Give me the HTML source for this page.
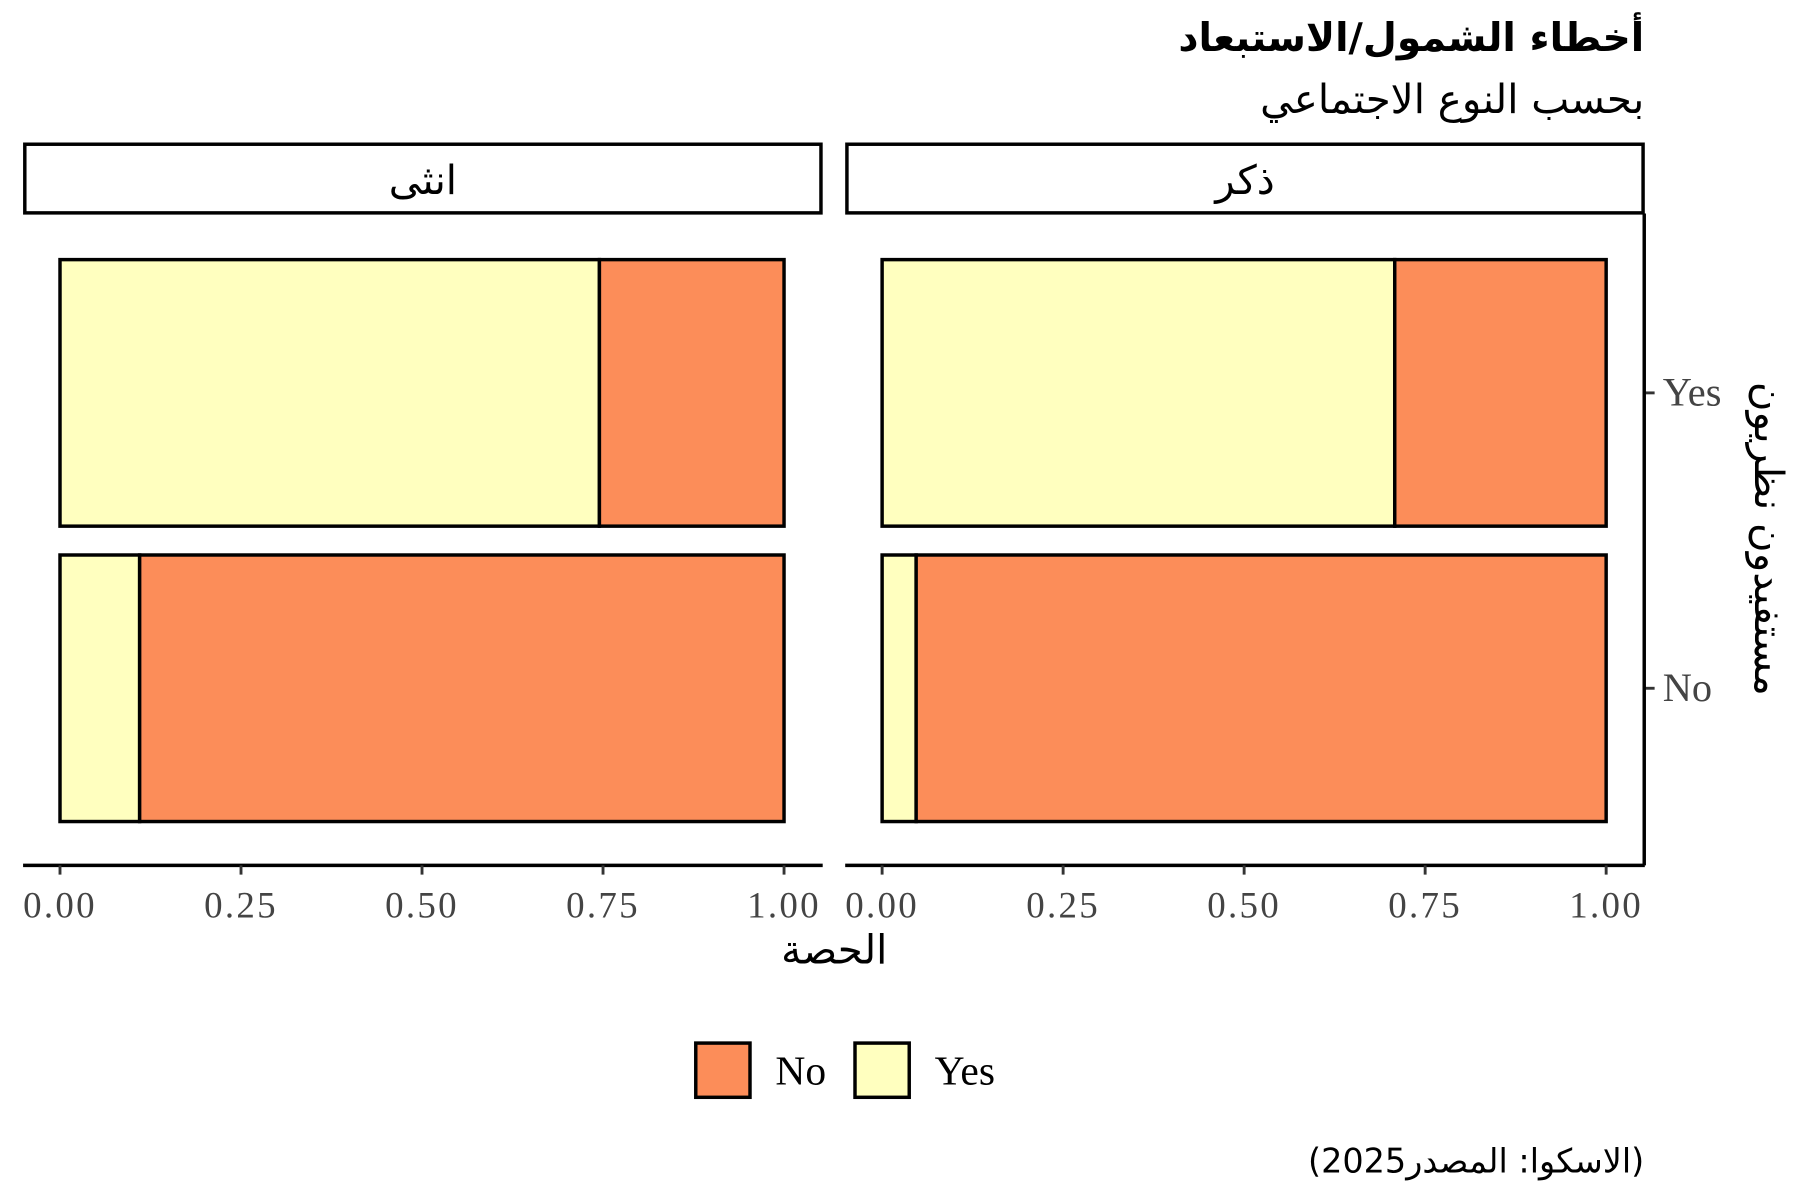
<!DOCTYPE html>
<html><head><meta charset="utf-8">
<style>
html,body{margin:0;padding:0;background:#fff;}
body{position:relative;width:1800px;height:1200px;overflow:hidden;}
svg{display:block;}
.ar{font-family:"DejaVu Sans","Noto Sans CJK SC",sans-serif;}
.sr{font-family:"Liberation Serif",serif;}
</style></head>
<body>
<svg id="chart" width="1800" height="1200" viewBox="0 0 1560 1040" xmlns="http://www.w3.org/2000/svg">
<text class="ar" x="1425" y="44" text-anchor="end" font-size="34" font-weight="bold" fill="#000">أخطاء الشمول/الاستبعاد</text>
<text class="ar" x="1425" y="98" text-anchor="end" font-size="35" fill="#000">بحسب النوع الاجتماعي</text>
<g id="panels"></g>
<line x1="1425" y1="185" x2="1425" y2="750" stroke="#000" stroke-width="3"/>
<text class="ar" transform="translate(1521,467) rotate(90)" text-anchor="middle" font-size="35" fill="#000">مستفيدون نظريون</text>
<text class="ar" x="723" y="835" text-anchor="middle" font-size="35" fill="#000">الحصة</text>
<g>
<rect x="603" y="904" width="47" height="47" fill="#FC8D59" stroke="#000" stroke-width="3"/>
<text class="sr" x="672" y="940" font-size="36" fill="#000">No</text>
<rect x="741" y="904" width="47" height="47" fill="#FFFFBF" stroke="#000" stroke-width="3"/>
<text class="sr" x="810" y="940" font-size="36" fill="#000">Yes</text>
</g>
<g id="caption" class="ar" font-size="29" fill="#000">
<text xml:space="preserve">(</text>
<text xml:space="preserve">2025</text>
<text xml:space="preserve">المصدر</text>
<text xml:space="preserve"> :</text>
<text xml:space="preserve">الاسكوا</text>
<text xml:space="preserve">)</text>
</g>
</svg>
<script>
const panels = ["انثى", "ذكر"];
const groups = ["Yes", "No"];
const yesShareFemale = [0.745, 0.11];
const yesShareMale = [0.708, 0.047];
const xTicks = [0, 0.25, 0.5, 0.75, 1];
const xTickLabels = ["0.00", "0.25", "0.50", "0.75", "1.00"];

const NS = "http://www.w3.org/2000/svg";
const g = document.getElementById("panels");
const panelLeft = [20, 732.5], panelW = 693;
const x0Off = 32, x1Off = 659.5;
const bandTop = {Yes: 225, No: 481}, bandH = 231;
function xScale(p, v) { return panelLeft[p] + x0Off + v * (x1Off - x0Off); }
function yBand(grp) { return bandTop[grp]; }
function mk(tag, attrs) { const e = document.createElementNS(NS, tag); for (const k in attrs) e.setAttribute(k, attrs[k]); g.appendChild(e); return e; }

const shares = [yesShareFemale, yesShareMale];
panels.forEach((name, p) => {
  const L = panelLeft[p];
  const strip = mk("rect", {x: L + 1.5, y: 125, width: panelW - 3, height: 59.5, fill: "#fff", stroke: "#000", "stroke-width": 3});
  
  
  const st = mk("text", {x: L + panelW / 2, y: 168, "text-anchor": "middle", "font-size": 35, class: "ar", fill: "#000"});
  st.textContent = name;
  
  
  groups.forEach((grp, i) => {
    const v = shares[p][i];
    const y = yBand(grp);
    const ry = mk("rect", {x: xScale(p, 0), y: y, width: xScale(p, v) - xScale(p, 0), height: bandH, fill: "#FFFFBF", stroke: "#000", "stroke-width": 3});
    
    
    const rn = mk("rect", {x: xScale(p, v), y: y, width: xScale(p, 1) - xScale(p, v), height: bandH, fill: "#FC8D59", stroke: "#000", "stroke-width": 3});
    
    
  });
  const ax = mk("line", {x1: L, y1: 750, x2: L + panelW, y2: 750, stroke: "#000", "stroke-width": 3});
  
  
  xTicks.forEach((t, i) => {
    const tx = xScale(p, t);
    const tk = mk("line", {x1: tx, y1: 750, x2: tx, y2: 758, stroke: "#333", "stroke-width": 2.5});
    
    
    const tl = mk("text", {x: tx, y: 795, "text-anchor": "middle", "font-size": 32, "letter-spacing": 2, class: "sr", fill: "#444"});
    tl.textContent = xTickLabels[i];
    
    
  });
});
groups.forEach(grp => {
  const cy = yBand(grp) + bandH / 2;
  const tk = mk("line", {x1: 1425, y1: cy, x2: 1434, y2: cy, stroke: "#333", "stroke-width": 2.5});
  
  
  const tl = mk("text", {x: 1441, y: cy + 11, "font-size": 35, class: "sr", fill: "#444"});
  tl.textContent = grp;
  
  
});
// caption pieces laid out left-to-right, ending at x=1425
const parts = Array.from(document.querySelectorAll('#caption text'));
let xr = 1425;
for (let i = parts.length - 1; i >= 0; i--) {
  const w = parts[i].getComputedTextLength();
  xr -= w;
  parts[i].setAttribute('x', xr);
  parts[i].setAttribute('y', 1016);
}
</script>
</body></html>
